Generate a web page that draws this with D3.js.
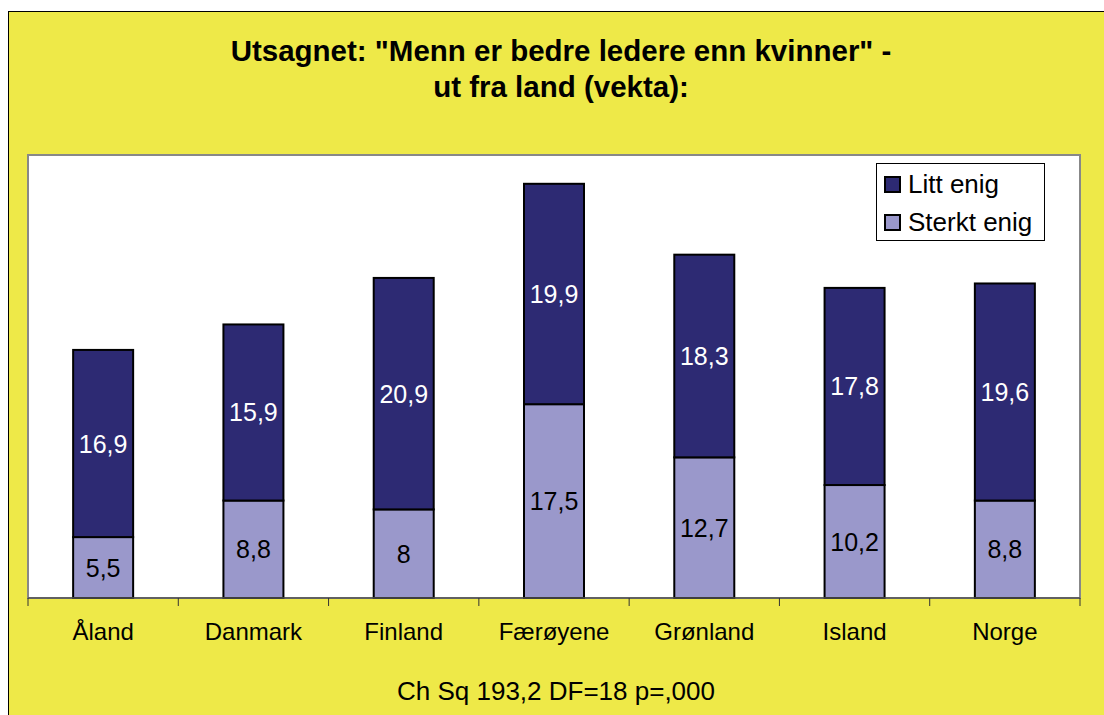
<!DOCTYPE html>
<html>
<head>
<meta charset="utf-8">
<script src="https://cdn.jsdelivr.net/npm/d3@7"></script>
<style>
    body { margin: 0; background: #fff; }
    svg { display: block; font-family: "Liberation Sans", Arial, sans-serif; }
</style>
</head>
<body>
<svg id="svg" width="1104" height="715"></svg>
<script>
// data
let countries = ['Åland', 'Danmark', 'Finland', 'Færøyene', 'Grønland', 'Island', 'Norge'];
let sterkt = [5.5, 8.8, 8, 17.5, 12.7, 10.2, 8.8];
let litt = [16.9, 15.9, 20.9, 19.9, 18.3, 17.8, 19.6];
let seriesNames = ['Litt enig', 'Sterkt enig'];
let titleLines = ['Utsagnet: "Menn er bedre ledere enn kvinner" -', 'ut fra land (vekta):'];
let footnote = 'Ch Sq 193,2 DF=18 p=,000';

const colDark = '#2d2a73';
const colLight = '#9a98cb';
const yellow = '#eee948';

let svg = d3.select('#svg');

// plot area
let plot = {left: 28, top: 155, right: 1080, bottom: 598};

// background + outer border
svg.append('rect')
    .attr('x', 8.5).attr('y', 11.5)
    .attr('width', 1110).attr('height', 720)
    .attr('fill', yellow)
    .attr('stroke', '#000')
    .attr('stroke-width', 1);

// title
svg.append('g').selectAll('text')
    .data(titleLines)
    .join('text')
    .attr('x', 561)
    .attr('y', (d, i) => 61 + i * 36)
    .attr('text-anchor', 'middle')
    .attr('font-size', 29.5)
    .attr('font-weight', 'bold')
    .text(d => d);

// white plot area
svg.append('rect')
    .attr('x', plot.left).attr('y', plot.top)
    .attr('width', plot.right - plot.left).attr('height', plot.bottom - plot.top)
    .attr('fill', '#fff')
    .attr('stroke', '#888')
    .attr('stroke-width', 2);

let x = d3.scaleBand()
    .domain(countries)
    .range([plot.left, plot.right])
    .paddingInner(0)
    .paddingOuter(0);

let y = d3.scaleLinear()
    .domain([0, 40])
    .range([plot.bottom, plot.top]);

let bw = 60;

let rows = countries.map((c, i) => ({c: c, s: sterkt[i], l: litt[i]}));

let bars = svg.append('g');

// lower segment: Sterkt enig
bars.selectAll('.low')
    .data(rows)
    .join('rect')
    .attr('x', d => x(d.c) + x.bandwidth() / 2 - bw / 2)
    .attr('y', d => y(d.s))
    .attr('width', bw)
    .attr('height', d => y(0) - y(d.s))
    .attr('fill', colLight)
    .attr('stroke', '#000')
    .attr('stroke-width', 2);

// upper segment: Litt enig
bars.selectAll('.high')
    .data(rows)
    .join('rect')
    .attr('x', d => x(d.c) + x.bandwidth() / 2 - bw / 2)
    .attr('y', d => y(d.s + d.l))
    .attr('width', bw)
    .attr('height', d => y(d.s) - y(d.s + d.l))
    .attr('fill', colDark)
    .attr('stroke', '#000')
    .attr('stroke-width', 2);

let fmt = v => String(v).replace('.', ',');

// value labels
bars.selectAll('.lowlab')
    .data(rows)
    .join('text')
    .attr('x', d => x(d.c) + x.bandwidth() / 2)
    .attr('y', d => y(d.s / 2) + 9)
    .attr('text-anchor', 'middle')
    .attr('font-size', 25)
    .attr('fill', '#000')
    .text(d => fmt(d.s));

bars.selectAll('.highlab')
    .data(rows)
    .join('text')
    .attr('x', d => x(d.c) + x.bandwidth() / 2)
    .attr('y', d => y(d.s + d.l / 2) + 9)
    .attr('text-anchor', 'middle')
    .attr('font-size', 25)
    .attr('fill', '#fff')
    .text(d => fmt(d.l));

// x axis line + ticks at band edges
let axis = svg.append('g');
axis.append('line')
    .attr('x1', plot.left).attr('x2', plot.right)
    .attr('y1', plot.bottom).attr('y2', plot.bottom)
    .attr('stroke', '#555').attr('stroke-width', 1.5);

let edges = countries.map(c => x(c)).concat([plot.right]);
axis.selectAll('.tick')
    .data(edges)
    .join('line')
    .attr('x1', d => d).attr('x2', d => d)
    .attr('y1', plot.bottom).attr('y2', plot.bottom + 8)
    .attr('stroke', '#333').attr('stroke-width', 1);

axis.selectAll('.lab')
    .data(countries)
    .join('text')
    .attr('x', d => x(d) + x.bandwidth() / 2)
    .attr('y', 640)
    .attr('text-anchor', 'middle')
    .attr('font-size', 24)
    .text(d => d);

// legend
let lg = svg.append('g');
lg.append('rect')
    .attr('x', 876.5).attr('y', 163.5)
    .attr('width', 168).attr('height', 77)
    .attr('fill', '#fff')
    .attr('stroke', '#000')
    .attr('stroke-width', 1);

let lgItems = lg.selectAll('.item')
    .data(seriesNames)
    .join('g')
    .attr('transform', (d, i) => `translate(885, ${177 + i * 38})`);

lgItems.append('rect')
    .attr('width', 15).attr('height', 15)
    .attr('fill', (d, i) => i === 0 ? colDark : colLight)
    .attr('stroke', '#000')
    .attr('stroke-width', 2);

lgItems.append('text')
    .attr('x', 23)
    .attr('y', 16)
    .attr('font-size', 26)
    .text(d => d);

// footnote
svg.append('text')
    .attr('x', 556)
    .attr('y', 700)
    .attr('text-anchor', 'middle')
    .attr('font-size', 26)
    .text(footnote);
</script>
</body>
</html>
